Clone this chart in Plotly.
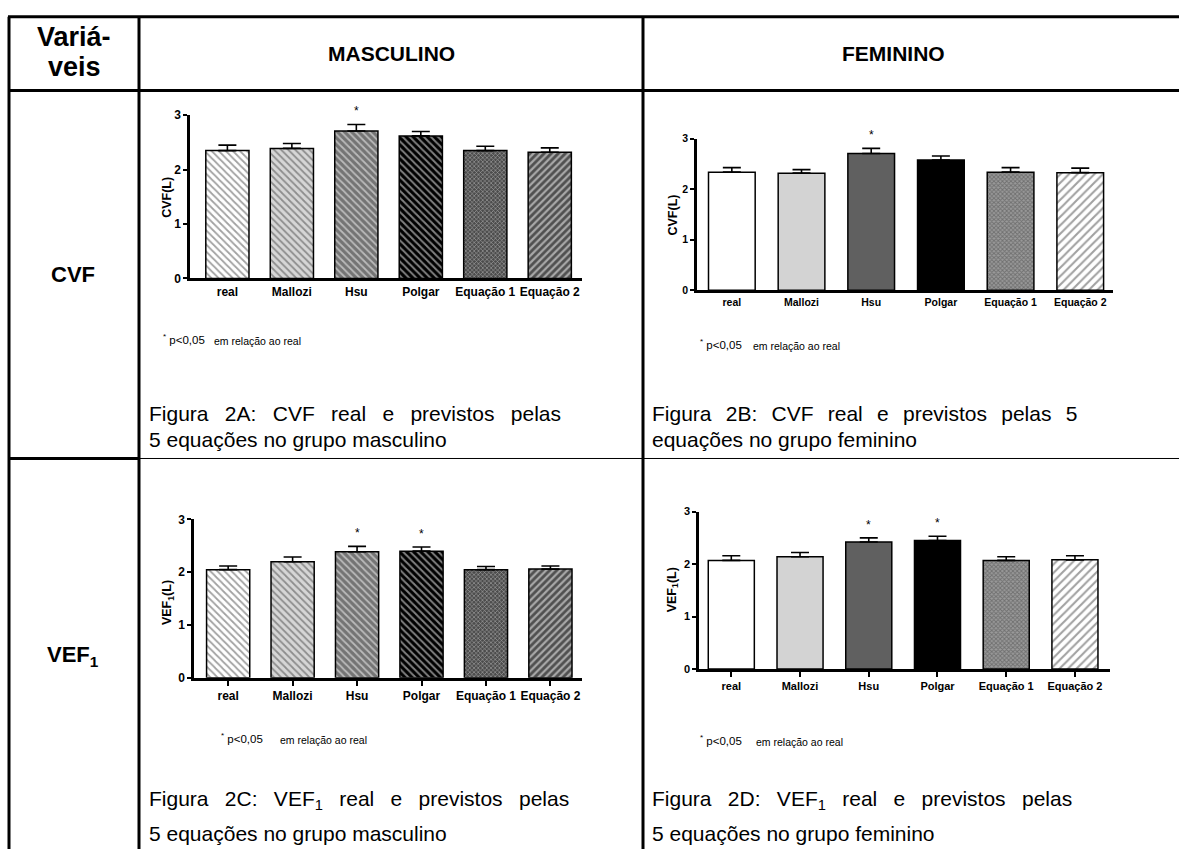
import plotly.graph_objects as go

W, H = 1179, 856
FONT = "Liberation Sans, Arial, sans-serif"

# ---- data -------------------------------------------------------------
categories = ["real", "Mallozi", "Hsu", "Polgar", "Equação 1", "Equação 2"]

cvf_masc = [2.35, 2.39, 2.71, 2.62, 2.35, 2.32]
cvf_masc_sem = [0.10, 0.09, 0.12, 0.08, 0.08, 0.08]
cvf_masc_sig = [False, False, True, False, False, False]

cvf_fem = [2.34, 2.32, 2.71, 2.58, 2.34, 2.33]
cvf_fem_sem = [0.09, 0.07, 0.10, 0.08, 0.09, 0.09]
cvf_fem_sig = [False, False, True, False, False, False]

vef_masc = [2.05, 2.20, 2.39, 2.40, 2.05, 2.06]
vef_masc_sem = [0.07, 0.09, 0.10, 0.08, 0.06, 0.06]
vef_masc_sig = [False, False, True, True, False, False]

vef_fem = [2.07, 2.14, 2.42, 2.45, 2.07, 2.08]
vef_fem_sem = [0.09, 0.08, 0.08, 0.08, 0.07, 0.08]
vef_fem_sig = [False, False, True, True, False, False]

y_ticks = [0, 1, 2, 3]


def fx(px):
    return px / W


def fy(py):
    return 1 - py / H


# hatch styles for the male (striped) and female (solid) panels
male_style = dict(
    color=["white", "#d6d6d6", "#747474", "black", "#4c4c4c", "#505050"],
    pattern=dict(
        shape=["\\", "\\", "\\", "\\", "x", "/"],
        bgcolor=["white", "#d6d6d6", "#747474", "black", "#4c4c4c", "#505050"],
        fgcolor=["black", "white", "#dcdcdc", "white", "#9c9c9c", "#0a0a0a"],
        size=[5, 5, 5, 5, 3, 5],
        solidity=[0.35, 0.35, 0.35, 0.4, 0.35, 0.45],
        fillmode="overlay",
    ),
)
female_style = dict(
    color=["white", "#d3d3d3", "#606060", "black", "#9a9a9a", "white"],
    pattern=dict(
        shape=["", "", "", "", "x", "/"],
        bgcolor=["white", "#d3d3d3", "#606060", "black", "white", "white"],
        fgcolor=["black", "black", "black", "black", "black", "black"],
        size=[6, 6, 6, 6, 3, 6],
        solidity=[0.3, 0.3, 0.3, 0.3, 0.5, 0.35],
        fillmode="overlay",
    ),
)

panels = [
    dict(vals=cvf_masc, sem=cvf_masc_sem, sig=cvf_masc_sig, style=male_style,
         box=(190, 582, 110, 276), xr=[-0.58, 5.5], xticks=False,
         ytitle="CVF(L)", ytx=167, yty=194, fs=12),
    dict(vals=cvf_fem, sem=cvf_fem_sem, sig=cvf_fem_sig, style=female_style,
         box=(697, 1113, 134, 288), xr=[-0.5, 5.47], xticks=False,
         ytitle="CVF(L)", ytx=673, yty=212, fs=10.5),
    dict(vals=vef_masc, sem=vef_masc_sem, sig=vef_masc_sig, style=male_style,
         box=(194, 582, 521, 682), xr=[-0.53, 5.49], xticks=True,
         ytitle="VEF<sub>1</sub>(L)", ytx=168, yty=606, fs=12),
    dict(vals=vef_fem, sem=vef_fem_sem, sig=vef_fem_sig, style=female_style,
         box=(699, 1110, 513, 673), xr=[-0.47, 5.51], xticks=True,
         ytitle="VEF<sub>1</sub>(L)", ytx=673, yty=593, fs=11),
]

fig = go.Figure()
annotations = []
layout_axes = {}

for k, p in enumerate(panels, start=1):
    xa = "x" if k == 1 else f"x{k}"
    ya = "y" if k == 1 else f"y{k}"
    x0, x1, y0, y1 = p["box"]
    st = p["style"]
    fig.add_trace(go.Bar(
        x=categories, y=p["vals"], xaxis=xa, yaxis=ya, width=0.67,
        marker=dict(color=st["color"], pattern=st["pattern"],
                    line=dict(color="black", width=1.5)),
        error_y=dict(type="data", array=p["sem"], arrayminus=[0] * len(p["sem"]),
                     symmetric=False, color="black", thickness=1.6, width=9),
        showlegend=False, hoverinfo="skip",
    ))
    tickfont = dict(family=FONT, size=p["fs"], color="black", weight="bold")
    layout_axes["xaxis" if k == 1 else f"xaxis{k}"] = dict(
        domain=[fx(x0), fx(x1)], anchor=ya, type="category",
        range=p["xr"], showline=True, linecolor="black", linewidth=2.5,
        ticks="outside" if p["xticks"] else "", ticklen=5, tickwidth=2,
        tickcolor="black", tickfont=tickfont, showgrid=False, zeroline=False,
        fixedrange=True,
    )
    layout_axes["yaxis" if k == 1 else f"yaxis{k}"] = dict(
        domain=[fy(y1), fy(y0)], anchor=xa, range=[0, 3], tickvals=y_ticks,
        showline=True, linecolor="black", linewidth=2.5, ticks="outside",
        ticklen=4, tickwidth=2, tickcolor="black", tickfont=tickfont,
        showgrid=False, zeroline=False, fixedrange=True,
    )
    annotations.append(dict(
        x=fx(p["ytx"]), y=fy(p["yty"]), xref="paper", yref="paper",
        xanchor="center", yanchor="middle",
        text=p["ytitle"], textangle=-90, showarrow=False,
        font=dict(family=FONT, size=12.5, color="black", weight="bold"),
    ))
    for i, flag in enumerate(p["sig"]):
        if flag:
            annotations.append(dict(
                x=categories[i], y=p["vals"][i] + p["sem"][i], xref=xa, yref=ya,
                text="*", showarrow=False, yanchor="bottom", yshift=4,
                font=dict(family=FONT, size=12, color="black"),
            ))

# ---- table text ---------------------------------------------------------
def label(x, y, text, size, bold=False, anchor="center"):
    annotations.append(dict(
        x=fx(x), y=fy(y), xref="paper", yref="paper", text=text,
        showarrow=False, xanchor=anchor, yanchor="middle",
        font=dict(family=FONT, size=size, color="black",
                  weight="bold" if bold else "normal"),
    ))


label(74, 30, "Variá-", 27, True)
label(74, 61, "veis", 27, True)
label(391, 47, "MASCULINO", 21, True)
label(893, 47, "FEMININO", 21, True)
label(73, 272, "CVF", 22, True)
label(73, 660, "VEF<sub>1</sub>", 22, True)

# significance footnotes: (x of "*", x of "em relação", y)
for (xs, xe, yf) in [(161, 212, 339), (698, 751, 344), (219, 278, 744), (698, 754, 746)]:
    label(xs, yf - 1, "<sup>*</sup> p&lt;0,05", 11.5, anchor="left")
    label(xe, yf + 1, "em relação ao real", 10.5, anchor="left")

# figure captions (first lines justified with wider word gaps)
EN = " \u2002"
THIN = " \u2009\u2009"


def justify(words, gap):
    return gap.join(words.split(" "))


CAP = 21
label(147, 413, justify("Figura 2A: CVF real e previstos pelas", EN), CAP, anchor="left")
label(147, 440, "5 equações no grupo masculino", CAP, anchor="left")
label(650, 413, justify("Figura 2B: CVF real e previstos pelas 5", THIN), CAP, anchor="left")
label(650, 440, "equações no grupo feminino", CAP, anchor="left")
label(147, 806, justify("Figura 2C: VEF<sub>1</sub> real e previstos pelas", EN), CAP, anchor="left")
label(147, 840, "5 equações no grupo masculino", CAP, anchor="left")
label(650, 806, justify("Figura 2D: VEF<sub>1</sub> real e previstos pelas", EN), CAP, anchor="left")
label(650, 840, "5 equações no grupo feminino", CAP, anchor="left")

# ---- table rules ----------------------------------------------------------
shapes = []


def rule(xa_, ya_, xb_, yb_, w):
    shapes.append(dict(type="line", xref="paper", yref="paper",
                       x0=fx(xa_), y0=fy(ya_), x1=fx(xb_), y1=fy(yb_),
                       line=dict(color="black", width=w)))


rule(8, 10, W, 10, 3)        # top
rule(8, 85, W, 85, 3)        # under header
rule(9, 10, 9, H, 3)         # left border
rule(139, 10, 139, H, 3)     # after variable column
rule(643, 10, 643, H, 3)     # between sexes
rule(9, 459, 139, 459, 3)    # row separator (variable column)
rule(139, 459, W, 459, 1)    # row separator (chart columns)

fig.update_layout(
    width=W, height=H, margin=dict(l=0, r=0, t=0, b=0),
    paper_bgcolor="white", plot_bgcolor="white", bargap=0.3,
    annotations=annotations, shapes=shapes, **layout_axes,
)

fig.write_html("out.html")
